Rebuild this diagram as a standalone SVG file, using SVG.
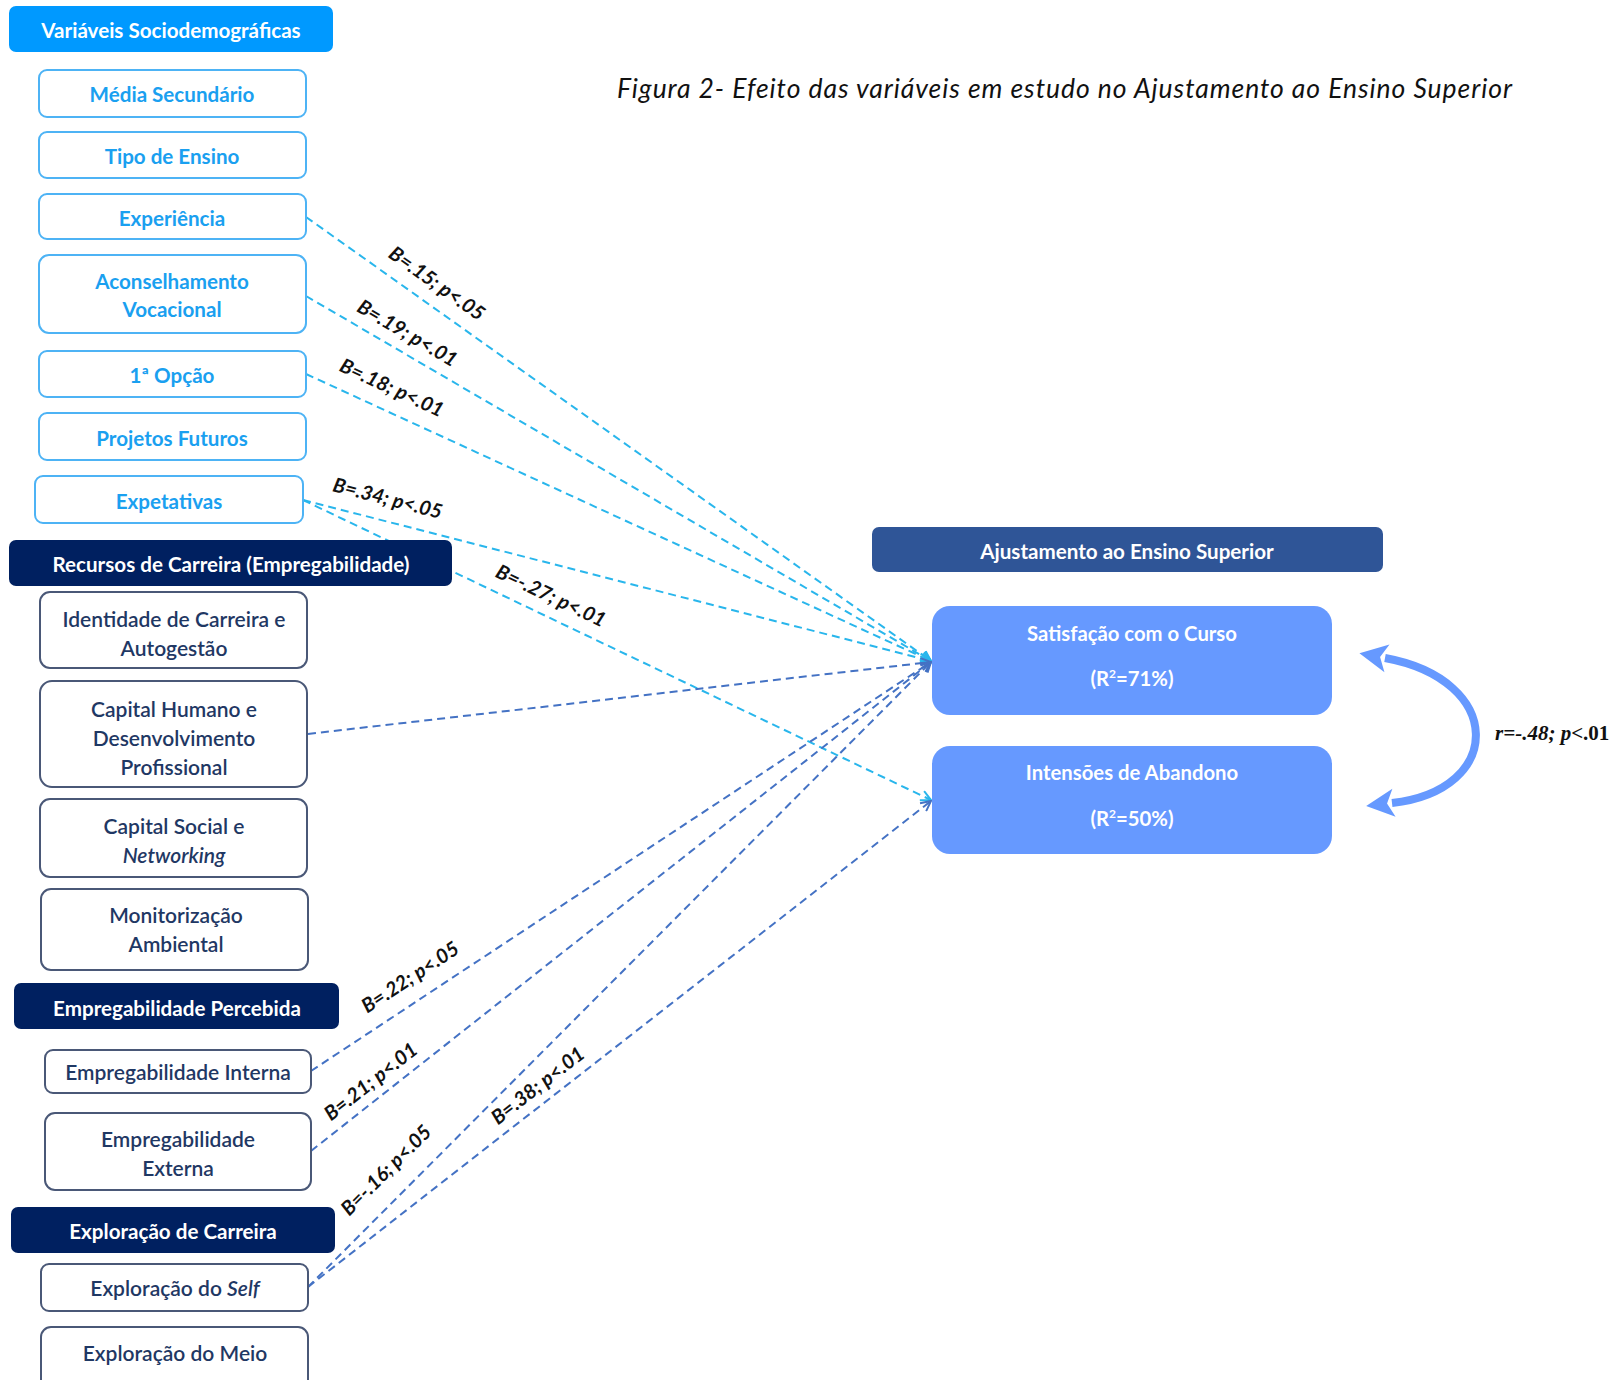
<svg xmlns="http://www.w3.org/2000/svg" width="1617" height="1380" viewBox="0 0 1617 1380">
<defs>
<style>
.hdrB{fill:#0099FF;}
.hdrN{fill:#002060;}
.hdrA{fill:#2F5597;}
.bxL{fill:#fff;stroke:#4DB3F5;stroke-width:2;}
.bxN{fill:#fff;stroke:#4A5877;stroke-width:2;}
.bxR{fill:#6699FF;}
.tw{font-family:Lato,"Liberation Sans",sans-serif;font-weight:bold;font-size:20.6px;fill:#fff;text-anchor:middle;}
.tr{font-size:20.3px;}
.tl{font-family:Lato,"Liberation Sans",sans-serif;font-weight:bold;font-size:20.6px;fill:#1AA0F0;text-anchor:middle;}
.tn{font-family:Lato,"Liberation Sans",sans-serif;font-weight:600;font-size:21px;fill:#1F3864;text-anchor:middle;}
.lab{font-family:Lato,"Liberation Sans",sans-serif;font-weight:bold;font-style:italic;font-size:20px;fill:#111;text-anchor:middle;}
.cl{fill:none;stroke:#29B6EC;stroke-width:2;stroke-dasharray:8 5;}
.cd{fill:none;stroke:#4472C4;stroke-width:2;stroke-dasharray:8 5;}
</style>
<marker id="aL" viewBox="0 0 12 12" refX="11" refY="6" markerWidth="12" markerHeight="12" markerUnits="userSpaceOnUse" orient="auto">
<path d="M1,1 L11,6 L1,11" fill="none" stroke="#29B6EC" stroke-width="2"/>
</marker>
<marker id="aD" viewBox="0 0 12 12" refX="11" refY="6" markerWidth="12" markerHeight="12" markerUnits="userSpaceOnUse" orient="auto">
<path d="M1,1 L11,6 L1,11" fill="none" stroke="#4472C4" stroke-width="2"/>
</marker>
<marker id="aC" viewBox="0 0 30 30" refX="4" refY="15" markerWidth="30" markerHeight="30" markerUnits="userSpaceOnUse" orient="auto-start-reverse">
<path d="M0,15 L28,1 L21,15 L28,29 Z" fill="#6699FF" transform="rotate(180 15 15)"/>
</marker>
</defs>
<rect width="1617" height="1380" fill="#fff"/>

<text x="617" y="98" textLength="895" lengthAdjust="spacing" style="font-family:Lato,'Liberation Sans',sans-serif;font-style:italic;font-size:26.5px;fill:#111;">Figura 2- Efeito das variáveis em estudo no Ajustamento ao Ensino Superior</text>

<g id="connectors">
<line class="cl" x1="306" y1="217" x2="931" y2="661" marker-end="url(#aL)"/>
<line class="cl" x1="306" y1="296" x2="931" y2="661" marker-end="url(#aL)"/>
<line class="cl" x1="306" y1="374" x2="931" y2="661" marker-end="url(#aL)"/>
<line class="cl" x1="303" y1="500" x2="931" y2="661" marker-end="url(#aL)"/>
<line class="cl" x1="303" y1="500" x2="931" y2="800" marker-end="url(#aL)"/>
<line class="cd" x1="308" y1="734" x2="931" y2="662" marker-end="url(#aD)"/>
<line class="cd" x1="311" y1="1071" x2="931" y2="662" marker-end="url(#aD)"/>
<line class="cd" x1="311" y1="1151" x2="931" y2="662" marker-end="url(#aD)"/>
<line class="cd" x1="308" y1="1287" x2="931" y2="662" marker-end="url(#aD)"/>
<line class="cd" x1="308" y1="1287" x2="931" y2="801" marker-end="url(#aD)"/>
<path d="M1385,658 C1505,680 1505,790 1392,803" fill="none" stroke="#6699FF" stroke-width="8" marker-start="url(#aC)" marker-end="url(#aC)"/>
<text class="lab" transform="translate(433,289) rotate(35.4)">B=.15; p&lt;.05</text>
<text class="lab" transform="translate(404,339) rotate(30.3)">B=.19; p&lt;.01</text>
<text class="lab" transform="translate(389,394) rotate(24.7)">B=.18; p&lt;.01</text>
<text class="lab" transform="translate(386,505) rotate(14.4)">B=.34; p&lt;.05</text>
<text class="lab" transform="translate(548,602) rotate(25.5)">B=-.27; p&lt;.01</text>
<text class="lab" transform="translate(414,983) rotate(-33.4)">B=.22; p&lt;.05</text>
<text class="lab" transform="translate(375,1087) rotate(-38.2)">B=.21; p&lt;.01</text>
<text class="lab" transform="translate(391,1175) rotate(-45)">B=-.16; p&lt;.05</text>
<text class="lab" transform="translate(542,1091) rotate(-38)">B=.38; p&lt;.01</text>
<text x="1495" y="740" style="font-family:'Liberation Serif',serif;font-style:italic;font-weight:bold;font-size:21px;fill:#111;">r=-.48; p<tspan font-style="normal">&lt;.01</tspan></text>
</g>

<g id="n-sociodemo"><rect class="hdrB" x="9" y="6" width="324" height="46" rx="7"/><text class="tw" x="171" y="38">Variáveis Sociodemográficas</text></g>
<g id="n-media"><rect class="bxL" x="39" y="70" width="267" height="47" rx="8"/><text class="tl" x="172" y="102">Média Secundário</text></g>
<g id="n-tipo"><rect class="bxL" x="39" y="132" width="267" height="46" rx="8"/><text class="tl" x="172" y="164">Tipo de Ensino</text></g>
<g id="n-exp"><rect class="bxL" x="39" y="194" width="267" height="45" rx="8"/><text class="tl" x="172" y="226">Experiência</text></g>
<g id="n-acons"><rect class="bxL" x="39" y="255" width="267" height="78" rx="10"/><text class="tl" x="172" y="289">Aconselhamento</text><text class="tl" x="172" y="317">Vocacional</text></g>
<g id="n-opcao"><rect class="bxL" x="39" y="351" width="267" height="46" rx="8"/><text class="tl" x="172" y="383">1ª Opção</text></g>
<g id="n-proj"><rect class="bxL" x="39" y="413" width="267" height="47" rx="8"/><text class="tl" x="172" y="446">Projetos Futuros</text></g>
<g id="n-expet"><rect class="bxL" x="35" y="476" width="268" height="47" rx="8"/><text class="tl" x="169" y="509">Expetativas</text></g>

<g id="n-recursos"><rect class="hdrN" x="9" y="540" width="443" height="46" rx="7"/><text class="tw" x="231" y="572">Recursos de Carreira (Empregabilidade)</text></g>
<g id="n-ident"><rect class="bxN" x="40" y="592" width="267" height="76" rx="10"/><text class="tn" x="174" y="627">Identidade de Carreira e</text><text class="tn" x="174" y="656">Autogestão</text></g>
<g id="n-caphum"><rect class="bxN" x="40" y="681" width="267" height="106" rx="12"/><text class="tn" x="174" y="717">Capital Humano e</text><text class="tn" x="174" y="746">Desenvolvimento</text><text class="tn" x="174" y="775">Profissional</text></g>
<g id="n-capsoc"><rect class="bxN" x="40" y="799" width="267" height="78" rx="10"/><text class="tn" x="174" y="834">Capital Social e</text><text class="tn" x="174" y="863" font-style="italic">Networking</text></g>
<g id="n-monit"><rect class="bxN" x="41" y="889" width="267" height="81" rx="10"/><text class="tn" x="176" y="923">Monitorização</text><text class="tn" x="176" y="952">Ambiental</text></g>

<g id="n-emppercebida"><rect class="hdrN" x="14" y="983" width="325" height="46" rx="7"/><text class="tw" x="177" y="1016">Empregabilidade Percebida</text></g>
<g id="n-empint"><rect class="bxN" x="45" y="1050" width="266" height="43" rx="8"/><text class="tn" x="178" y="1080">Empregabilidade Interna</text></g>
<g id="n-empext"><rect class="bxN" x="45" y="1113" width="266" height="77" rx="10"/><text class="tn" x="178" y="1147">Empregabilidade</text><text class="tn" x="178" y="1176">Externa</text></g>

<g id="n-exploracao"><rect class="hdrN" x="11" y="1207" width="324" height="46" rx="7"/><text class="tw" x="173" y="1239">Exploração de Carreira</text></g>
<g id="n-self"><rect class="bxN" x="41" y="1264" width="267" height="47" rx="8"/><text class="tn" x="175" y="1296">Exploração do <tspan font-style="italic">Self</tspan></text></g>
<g id="n-meio"><rect class="bxN" x="41" y="1327" width="267" height="64" rx="10"/><text class="tn" x="175" y="1361">Exploração do Meio</text></g>

<g id="n-ajust"><rect class="hdrA" x="872" y="527" width="511" height="45" rx="7"/><text class="tw" x="1127" y="559">Ajustamento ao Ensino Superior</text></g>
<g id="n-satisf"><rect class="bxR" x="932" y="606" width="400" height="109" rx="18"/><text class="tw tr" x="1132" y="641">Satisfação com o Curso</text><text class="tw tr" x="1132" y="686">(R<tspan font-size="12" dy="-8">2</tspan><tspan dy="8">=71%)</tspan></text></g>
<g id="n-intens"><rect class="bxR" x="932" y="746" width="400" height="108" rx="18"/><text class="tw tr" x="1132" y="780">Intensões de Abandono</text><text class="tw tr" x="1132" y="826">(R<tspan font-size="12" dy="-8">2</tspan><tspan dy="8">=50%)</tspan></text></g>
</svg>
